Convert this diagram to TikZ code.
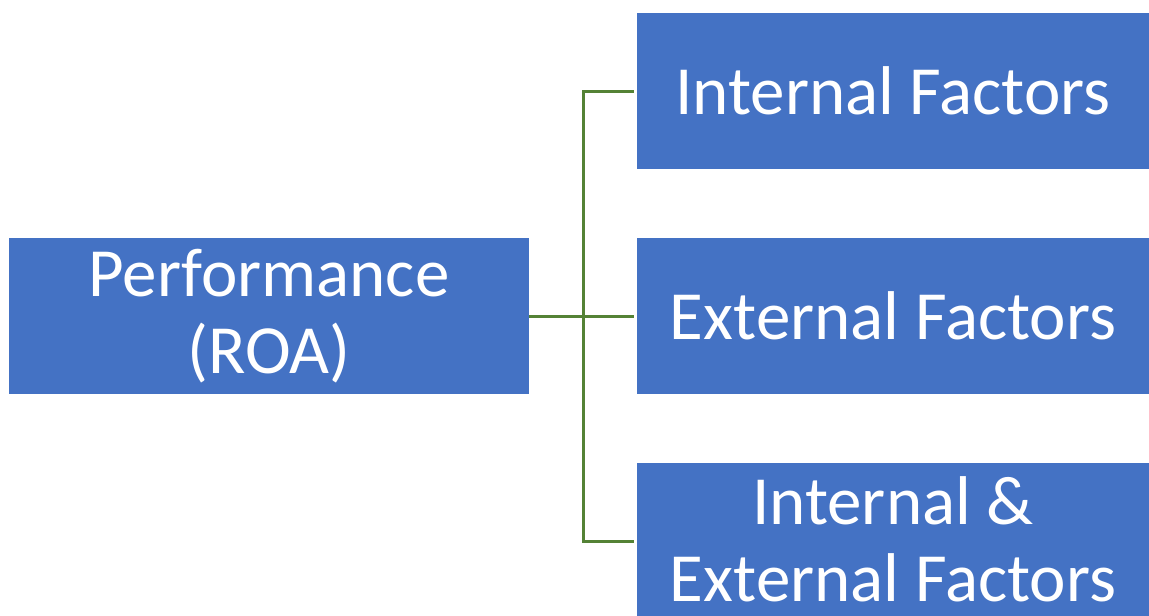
\documentclass[tikz,border=0pt]{standalone}
\usepackage{fontspec}
\setmainfont{Carlito}
\definecolor{boxblue}{HTML}{4472C4}
\definecolor{linkgreen}{HTML}{548235}

\begin{document}
\begin{tikzpicture}[x=1pt, y=-1pt,
            factor/.style={fill=boxblue, text=white, inner sep=0pt, minimum width=512pt, minimum height=156pt, align=center, font=\fontsize{69}{77}\selectfont},
            link/.style={draw=linkgreen, line width=3pt, shorten >=3pt}]
            \clip (0, 0) rectangle (1149, 616);
            \node[factor, minimum width=520pt] (perf) at (269, 316) {Performance\\(ROA)};
            \node[factor] (intf) at (893, 91) {Internal Factors};
            \node[factor] (extf) at (893, 316) {External Factors};
            \node[factor, text depth=4pt] (both) at (893, 541) {Internal \&\\External Factors};
            \coordinate (fork) at (583, 316);
            \draw[link, shorten >=0pt] (perf.east) -- (fork);
            \draw[link] (fork) |- (intf.west);
            \draw[link] (fork) -- (extf.west);
            \draw[link] (fork) |- (both.west);
        \end{tikzpicture}
\end{document}
